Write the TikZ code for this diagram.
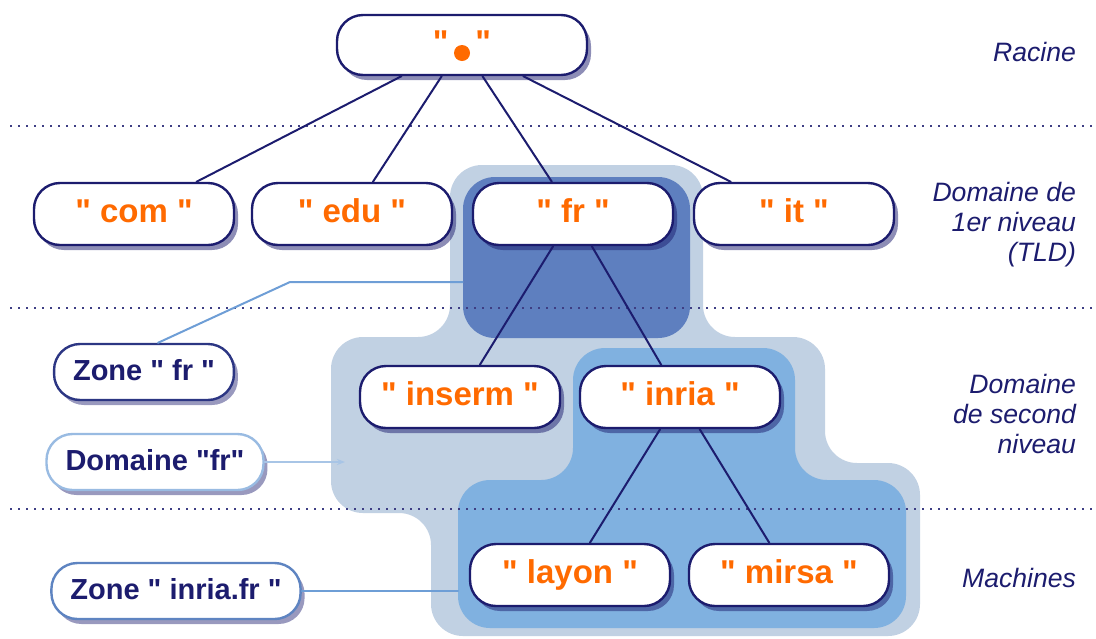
\documentclass[tikz,border=0pt]{standalone}
\usepackage{fontspec}
\setmainfont{Liberation Sans}
\usetikzlibrary{shadows,arrows.meta}
\definecolor{navy}{HTML}{1C1C6E}
\definecolor{dnsorange}{HTML}{FF6A00}
\definecolor{lightzone}{HTML}{C1D1E3}
\definecolor{darkzone}{HTML}{5E7FBF}
\definecolor{inriazone}{HTML}{80B1E0}
\definecolor{linkblue}{HTML}{6E9ED6}
\newcommand\dq{\textquotedbl}
\begin{document}
\begin{tikzpicture}[x=0.5pt,y=-0.5pt,line join=round,line cap=round,
	box/.style={draw=navy,line width=1.2pt,fill=white,rounded corners=13pt,
		minimum width=100pt,minimum height=31pt,inner sep=0pt,
		text height=12pt,text depth=3.5pt,text=dnsorange,
		font=\fontsize{16.5}{18}\selectfont\bfseries,
		drop shadow={shadow xshift=2pt,shadow yshift=-2.5pt,fill=navy,opacity=.5}},
	zonelabel/.style={line width=1.2pt,fill=white,rounded corners=13pt,
		minimum height=28pt,inner xsep=9.5pt,inner ysep=0pt,
		text height=11pt,text depth=3pt,text=navy,
		font=\fontsize{14.5}{16}\selectfont\bfseries,
		drop shadow={shadow xshift=2pt,shadow yshift=-2.5pt,fill=navy,opacity=.45}},
	level/.style={anchor=east,align=right,text=navy,
		font=\fontsize{13.3}{15}\selectfont\itshape},
	edge/.style={draw=navy,line width=1pt},
	link/.style={draw=linkblue,line width=1pt},
	dots/.style={draw=navy!85,line width=1pt,line cap=butt,dash pattern=on 1pt off 3pt}]
	\useasboundingbox (0,0) rectangle (1096,638);
	% zones
	\fill[lightzone,rounded corners=16pt] (450,165) -- (703,165) -- (703,337) -- (825,337)
		-- (825,463) -- (920,463) -- (920,636) -- (431,636) -- (431,513) -- (331,513)
		-- (331,337) -- (450,337) -- cycle;
	\node[fill=darkzone,rounded corners=16pt,minimum width=113.5pt,minimum height=80.5pt,
		inner sep=0pt] (frzone) at (576.5,257.5) {};
	\fill[inriazone,rounded corners=16pt] (573,348) -- (795,348) -- (795,480) -- (906,480)
		-- (906,628) -- (458,628) -- (458,480) -- (573,480) -- cycle;
	\coordinate (inriaedge) at (458,591);
	\coordinate (domedge) at (345,462);
	\coordinate (kneefr) at (290,282);
	% levels
	\foreach \y in {126,308,509}
		\draw[dots] (10,\y) -- (1096,\y);
	\node[level] (racine) at (1083,52) {Racine};
	\node[level] (tld) at (1083,225) {Domaine de\\1er niveau\\(TLD)};
	\node[level] (second) at (1083,414) {Domaine\\de second\\niveau};
	\node[level] (machines) at (1083,578) {Machines};
	% tree
	\node[box,minimum width=125pt,minimum height=30pt] (root) at (462,45) {\dq\hspace{13.5pt}\dq};
	\fill[dnsorange] ([yshift=-4pt]root.center) circle (4pt);
	\node[box] (com) at (134,214) {\dq{} com \dq};
	\node[box] (edu) at (352,214) {\dq{} edu \dq};
	\node[box] (fr) at (573,214) {\dq{} fr \dq};
	\node[box] (it) at (794,214) {\dq{} it \dq};
	\node[box] (inserm) at (460,397) {\dq{} inserm \dq};
	\node[box] (inria) at (680,397) {\dq{} inria \dq};
	\node[box] (layon) at (570,575) {\dq{} layon \dq};
	\node[box] (mirsa) at (789,575) {\dq{} mirsa \dq};
	\foreach \a/\b in {root/com,root/edu,root/fr,root/it,fr/inserm,fr/inria,inria/layon,inria/mirsa}
		\draw[edge] (\a) -- (\b);
	% zone labels
	\node[zonelabel,draw=navy!80!linkblue] (zfr) at (144,372) {Zone \dq{} fr \dq};
	\node[zonelabel,draw=linkblue!70] (dfr) at (155,462) {Domaine \dq fr\dq};
	\node[zonelabel,draw=linkblue!80!navy] (zinria) at (176,591) {Zone \dq{} inria.fr \dq};
	\draw[link] ([xshift=7pt]zfr.north) -- (kneefr) -- (kneefr -| frzone.west);
	\draw[link,draw=linkblue!60,-{Stealth[length=4pt]}] (dfr.east) -- (domedge);
	\draw[link] (zinria.east) -- (inriaedge);
\end{tikzpicture}
\end{document}
